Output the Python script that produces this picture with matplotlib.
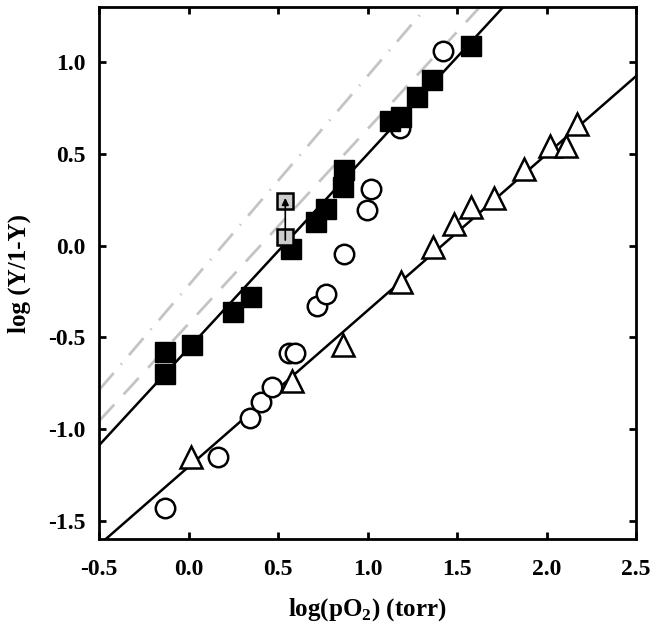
import matplotlib.pyplot as plt
import numpy as np

plt.rcParams['font.family'] = ['Liberation Serif', 'DejaVu Serif']
plt.rcParams['font.weight'] = 'bold'
plt.rcParams['mathtext.fontset'] = 'custom'
plt.rcParams['mathtext.rm'] = 'Liberation Serif:bold'

# filled squares
sq_x = [-0.13, -0.13, 0.02, 0.25, 0.35, 0.57, 0.71, 0.77, 0.865, 0.87,
        1.125, 1.185, 1.275, 1.36, 1.58]
sq_y = [-0.58, -0.70, -0.54, -0.36, -0.28, -0.02, 0.13, 0.20, 0.32, 0.41,
        0.68, 0.70, 0.81, 0.90, 1.09]

# grey squares (before -> after)
gsq_x = [0.54, 0.54]
gsq_y = [0.045, 0.245]

# open circles
ci_x = [-0.13, 0.165, 0.34, 0.405, 0.465, 0.56, 0.595, 0.715, 0.77, 0.87,
        0.995, 1.02, 1.18, 1.42]
ci_y = [-1.43, -1.15, -0.94, -0.85, -0.77, -0.585, -0.585, -0.33, -0.265, -0.045,
        0.195, 0.31, 0.64, 1.06]

# open triangles
tr_x = [0.015, 0.58, 0.865, 1.185, 1.365, 1.485, 1.58, 1.705, 1.875, 2.02,
        2.11, 2.17]
tr_y = [-1.15, -0.735, -0.54, -0.20, -0.005, 0.12, 0.21, 0.26, 0.42, 0.545,
        0.545, 0.66]

# fitted lines: (value at x=-0.5, slope)
fit_upper = (-1.087, 1.057)
fit_lower = (-1.63, 0.851)
ref_dash = (-0.955, 1.06)
ref_dashdot = (-0.786, 1.14)

fig = plt.figure(figsize=(6.57, 6.38), dpi=100)
ax = fig.add_axes([0.151, 0.1547, 0.817, 0.8343])

xx = np.array([-0.5, 2.5])
ax.plot(xx, ref_dashdot[0] + ref_dashdot[1] * (xx + 0.5), color='#c4c4c4',
        lw=2, dashes=(8, 4, 0.5, 4), zorder=1)
ax.plot(xx, ref_dash[0] + ref_dash[1] * (xx + 0.5), color='#c4c4c4',
        lw=2, dashes=(8, 5), zorder=1)
ax.plot(xx, fit_upper[0] + fit_upper[1] * (xx + 0.5), color='black', lw=1.8, zorder=2)
ax.plot(xx, fit_lower[0] + fit_lower[1] * (xx + 0.5), color='black', lw=1.8, zorder=2)

ax.plot(ci_x, ci_y, 'o', ms=14, mfc='white', mec='black', mew=1.8, zorder=3)
ax.plot(tr_x, tr_y, '^', ms=16, mfc='white', mec='black', mew=1.8, zorder=3)
ax.plot(sq_x, sq_y, 's', ms=14.5, mfc='black', mec='black', zorder=4)
ax.plot(gsq_x, gsq_y, 's', ms=11, mfc='#cccccc', mec='black', mew=1.8, zorder=5)
ax.annotate('', xy=(gsq_x[1], gsq_y[1] + 0.03), xytext=(gsq_x[0], gsq_y[0] - 0.03),
            arrowprops=dict(arrowstyle='-|>', color='black', lw=1.2,
                            mutation_scale=10), zorder=6)

ax.set_xlim(-0.5, 2.5)
ax.set_ylim(-1.6, 1.3)
ax.set_xticks([-0.5, 0.0, 0.5, 1.0, 1.5, 2.0, 2.5])
ax.set_yticks([-1.5, -1.0, -0.5, 0.0, 0.5, 1.0])
ax.set_xticklabels(['-0.5', '0.0', '0.5', '1.0', '1.5', '2.0', '2.5'])
ax.set_yticklabels(['-1.5', '-1.0', '-0.5', '0.0', '0.5', '1.0'])
ax.tick_params(direction='in', length=5, width=2, top=True, right=True,
               labelsize=17)
ax.tick_params(axis='x', pad=14)
ax.tick_params(axis='y', pad=10)
for s in ax.spines.values():
    s.set_linewidth(2)

ax.set_xlabel('log(pO$_2$) (torr)', fontsize=18, fontweight='bold', labelpad=12)
ax.set_ylabel('log (Y/1-Y)', fontsize=18, fontweight='bold', labelpad=12)

fig.savefig('out.png', dpi=100)
